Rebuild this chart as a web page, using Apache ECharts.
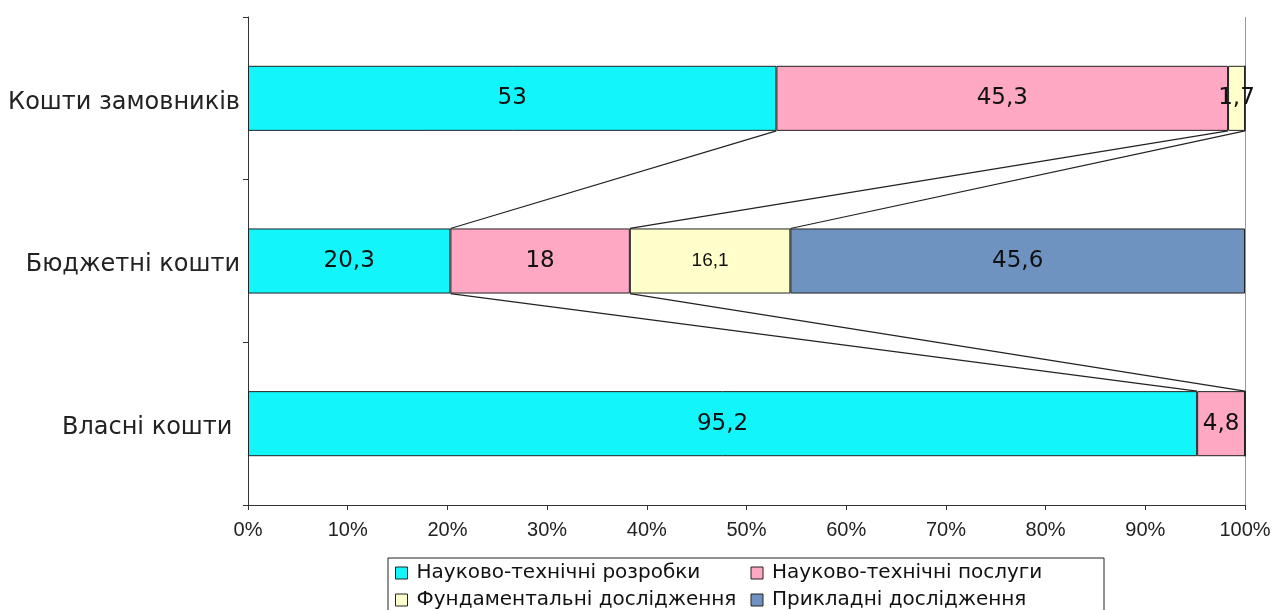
<!DOCTYPE html>
<html>
<head>
<meta charset="utf-8">
<script src="https://cdn.jsdelivr.net/npm/echarts@6/dist/echarts.min.js"></script>
<style>html,body{margin:0;padding:0;background:#fff}#c{width:1277px;height:610px}</style>
</head>
<body>
<div id="c"></div>
<script>
// Categories listed bottom-to-top (ECharts category y-axis)
var categories = ['Власні кошти ', 'Бюджетні кошти', 'Кошти замовників'];
var seriesNames = ['Науково-технічні розробки', 'Науково-технічні послуги', 'Фундаментальні дослідження', 'Прикладні дослідження'];
var rozrobky = [95.2, 20.3, 53];
var posluhy = [4.8, 18, 45.3];
var fundament = [0, 16.1, 1.7];
var prykladni = [0, 45.6, 0];
var xTicks = [0, 100, 10];

var colors = ['#12F5FA', '#FFA8C4', '#FFFFCC', '#6F93C0'];
var allVals = [rozrobky, posluhy, fundament, prykladni];

// cumulative end of each segment per category
function cumEnds(ci) {
  var s = 0, out = [];
  for (var k = 0; k < allVals.length; k++) { s += allVals[k][ci]; out.push(+s.toFixed(2)); }
  return out;
}
// series lines between adjacent bars (upper category -> lower category)
var linkData = [];
for (var ci = categories.length - 1; ci > 0; ci--) {
  var up = cumEnds(ci), dn = cumEnds(ci - 1);
  for (var k = 0; k < up.length; k++) {
    if (allVals[k][ci] === 0 || allVals[k][ci - 1] === 0) continue;
    linkData.push([up[k], ci, dn[k], ci - 1]);
  }
}

var bigLabel = {fontFamily: 'DejaVu Sans', fontSize: 23};
var smallLabel = {fontFamily: 'Liberation Sans', fontSize: 19};

var series = allVals.map(function (arr, k) {
  return {
    name: seriesNames[k],
    type: 'bar',
    stack: 'total',
    barCategoryGap: '60%',
    data: arr.map(function (v, i) {
      var f = (k === 2 && i === 1) ? smallLabel : bigLabel;
      return {value: v, label: {fontFamily: f.fontFamily, fontSize: f.fontSize}};
    }),
    itemStyle: {color: colors[k], borderColor: '#222', borderWidth: 1},
    label: {
      show: true,
      position: 'inside',
      color: '#111',
      formatter: function (p) { return p.value === 0 ? '' : String(p.value).replace('.', ','); }
    },
    z: 3
  };
});
series[0].markLine = {
  silent: true,
  symbol: ['none', 'none'],
  label: {show: false},
  lineStyle: {color: '#999', type: 'solid', width: 1},
  data: [{xAxis: 100}],
  z: 1
};

series.push({
  type: 'custom',
  silent: true,
  z: 2,
  encode: {x: [0, 2], y: [1, 3]},
  data: linkData,
  renderItem: function (params, api) {
    var p1 = api.coord([api.value(0), api.value(1)]);
    var p2 = api.coord([api.value(2), api.value(3)]);
    var band = api.size([0, 1])[1];
    var half = band * 0.2;
    return {
      type: 'line',
      shape: {x1: p1[0], y1: p1[1] + half, x2: p2[0], y2: p2[1] - half},
      style: {stroke: '#222', lineWidth: 1.2}
    };
  }
});

var chart = echarts.init(document.getElementById('c'));
chart.setOption({
  animation: false,
  grid: {left: 248, right: 32, top: 17, bottom: 105},
  xAxis: {
    type: 'value',
    min: xTicks[0], max: xTicks[1], interval: xTicks[2],
    axisLine: {show: true, lineStyle: {color: '#333'}},
    axisTick: {show: true, length: 5, lineStyle: {color: '#333'}},
    splitLine: {show: false},
    axisLabel: {formatter: '{value}%', color: '#222', fontFamily: 'Liberation Sans', fontSize: 20, margin: 15}
  },
  yAxis: {
    type: 'category',
    data: categories,
    axisLine: {show: true, lineStyle: {color: '#333'}},
    axisTick: {show: true, length: 5, lineStyle: {color: '#333'}},
    axisLabel: {
      margin: 8,
      formatter: '{a|{value}}',
      rich: {a: {color: '#222', fontFamily: 'DejaVu Sans', fontSize: 24, lineHeight: 28, padding: [8, 0, 0, 0]}}
    }
  },
  legend: {
    data: seriesNames,
    left: 388, top: 558, width: 712,
    orient: 'horizontal',
    borderColor: '#222', borderWidth: 1,
    padding: [3, 1, 20, 7],
    itemGap: 3,
    itemWidth: 12, itemHeight: 12,
    icon: 'rect',
    itemStyle: {borderColor: '#222', borderWidth: 1},
    formatter: '{a|{name}}',
    textStyle: {
      fontFamily: 'DejaVu Sans', fontSize: 20, color: '#111',
      rich: {a: {width: 331, lineHeight: 23, padding: [2, 0, 2, 4], fontFamily: 'DejaVu Sans', fontSize: 20, color: '#111'}}
    },
    selectedMode: false
  },
  series: series
});
</script>
</body>
</html>
